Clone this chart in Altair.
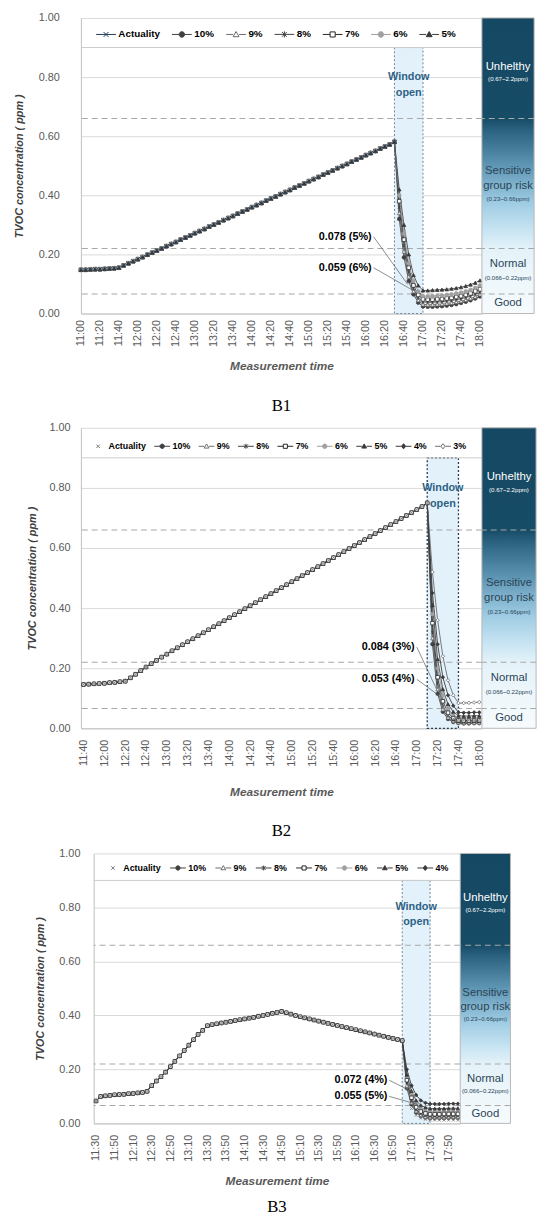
import altair as alt
import pandas as pd

FONT = "Liberation Sans"
SERIF = "Liberation Serif"

# ---------------- shared values ----------------
Y_TICKS = [0.0, 0.2, 0.4, 0.6, 0.8, 1.0]
THRESHOLDS = [0.66, 0.22, 0.066]
LEGEND_RULE = [0.9]
BAND_TEXT = ["Unhelthy", "(0.67~2.2ppm)", "Sensitive", "group risk", "(0.23~0.66ppm)",
             "Normal", "(0.066~0.22ppm)", "Good"]
BAND_TEXT_V = [0.835, 0.792, 0.482, 0.432, 0.388, 0.166, 0.12, 0.034]
WINDOW_TEXT = ["Window", "open"]
WINDOW_TEXT_V = [0.80, 0.745]

# ---------------- B1 ----------------
B1_SERIES = ["Actuality", "10%", "9%", "8%", "7%", "6%", "5%"]
B1_START = "11:00"
B1_WINDOW = ["16:30", "17:00"]
B1_TICKS = ["11:00", "11:20", "11:40", "12:00", "12:20", "12:40", "13:00", "13:20", "13:40",
            "14:00", "14:20", "14:40", "15:00", "15:20", "15:40", "16:00", "16:20", "16:40",
            "17:00", "17:20", "17:40", "18:00"]
B1_PRE = [0.148, 0.148, 0.149, 0.150, 0.150, 0.151, 0.152, 0.153, 0.155, 0.163,
          0.170, 0.177, 0.184, 0.191, 0.199, 0.206, 0.213, 0.220, 0.228, 0.235,
          0.242, 0.250, 0.257, 0.264, 0.272, 0.279, 0.286, 0.294, 0.301, 0.308,
          0.316, 0.323, 0.330, 0.338, 0.345, 0.352, 0.360, 0.367, 0.374, 0.382,
          0.389, 0.396, 0.404, 0.411, 0.418, 0.426, 0.433, 0.440, 0.448, 0.455,
          0.462, 0.470, 0.477, 0.484, 0.492, 0.499, 0.506, 0.514, 0.521, 0.528,
          0.536, 0.543, 0.550, 0.558, 0.565, 0.572, 0.581]
B1_POST_10 = [0.581, 0.32, 0.19, 0.11, 0.065, 0.037, 0.024, 0.023, 0.023, 0.024, 0.025, 0.027, 0.029, 0.032, 0.036, 0.040, 0.045, 0.051, 0.058]
B1_POST_9 = [0.581, 0.34, 0.21, 0.125, 0.075, 0.045, 0.031, 0.030, 0.030, 0.031, 0.032, 0.034, 0.036, 0.039, 0.042, 0.046, 0.051, 0.057, 0.065]
B1_POST_8 = [0.581, 0.36, 0.23, 0.14, 0.085, 0.053, 0.039, 0.038, 0.038, 0.039, 0.040, 0.042, 0.044, 0.047, 0.050, 0.054, 0.059, 0.065, 0.072]
B1_POST_7 = [0.581, 0.38, 0.25, 0.155, 0.095, 0.063, 0.048, 0.047, 0.047, 0.048, 0.049, 0.051, 0.053, 0.056, 0.059, 0.063, 0.068, 0.075, 0.082]
B1_POST_6 = [0.581, 0.40, 0.27, 0.17, 0.11, 0.075, 0.059, 0.058, 0.059, 0.060, 0.061, 0.063, 0.065, 0.068, 0.071, 0.075, 0.080, 0.087, 0.095]
B1_POST_5 = [0.581, 0.42, 0.30, 0.20, 0.13, 0.095, 0.078, 0.078, 0.079, 0.080, 0.081, 0.082, 0.084, 0.086, 0.089, 0.093, 0.098, 0.104, 0.112]
B1_NOTE_TEXT = ["0.078 (5%)", "0.059 (6%)"]
B1_NOTE_AT = ["16:06", "16:06"]
B1_NOTE_V = [0.26, 0.155]
B1_NOTE_TO = ["16:44", "16:48"]
B1_NOTE_TO_V = [0.098, 0.081]

# ---------------- B2 ----------------
B2_SERIES = ["Actuality", "10%", "9%", "8%", "7%", "6%", "5%", "4%", "3%"]
B2_START = "11:40"
B2_WINDOW = ["17:10", "17:40"]
B2_TICKS = ["11:40", "12:00", "12:20", "12:40", "13:00", "13:20", "13:40", "14:00", "14:20",
            "14:40", "15:00", "15:20", "15:40", "16:00", "16:20", "16:40", "17:00", "17:20",
            "17:40", "18:00"]
B2_PRE = [0.146, 0.147, 0.148, 0.149, 0.150, 0.152, 0.153, 0.155, 0.157,
          0.168, 0.180, 0.192, 0.204, 0.215, 0.226, 0.237, 0.247, 0.258, 0.268,
          0.278, 0.288, 0.298, 0.308, 0.318, 0.328, 0.338, 0.348, 0.358, 0.368,
          0.378, 0.388, 0.398, 0.408, 0.418, 0.428, 0.438, 0.448, 0.458, 0.468,
          0.478, 0.488, 0.498, 0.508, 0.518, 0.528, 0.538, 0.548, 0.558, 0.568,
          0.578, 0.588, 0.598, 0.608, 0.618, 0.628, 0.638, 0.648, 0.658, 0.668,
          0.678, 0.688, 0.698, 0.708, 0.718, 0.728, 0.738, 0.750]
B2_POST_ACT = [0.750, 0.31, 0.14, 0.075, 0.045, 0.032, 0.028, 0.027, 0.027, 0.027, 0.028]
B2_POST_10 = [0.750, 0.28, 0.115, 0.055, 0.031, 0.021, 0.017, 0.016, 0.016, 0.017, 0.017]
B2_POST_9 = [0.750, 0.30, 0.13, 0.063, 0.036, 0.024, 0.019, 0.018, 0.018, 0.019, 0.019]
B2_POST_8 = [0.750, 0.32, 0.15, 0.075, 0.043, 0.028, 0.022, 0.021, 0.021, 0.022, 0.022]
B2_POST_7 = [0.750, 0.35, 0.17, 0.09, 0.052, 0.034, 0.027, 0.026, 0.026, 0.027, 0.027]
B2_POST_6 = [0.750, 0.38, 0.20, 0.11, 0.065, 0.043, 0.034, 0.033, 0.033, 0.034, 0.034]
B2_POST_5 = [0.750, 0.41, 0.23, 0.13, 0.08, 0.055, 0.042, 0.041, 0.041, 0.042, 0.042]
B2_POST_4 = [0.750, 0.45, 0.28, 0.17, 0.11, 0.075, 0.053, 0.052, 0.052, 0.053, 0.053]
B2_POST_3 = [0.750, 0.52, 0.36, 0.24, 0.16, 0.11, 0.084, 0.084, 0.085, 0.086, 0.087]
B2_NOTE_TEXT = ["0.084 (3%)", "0.053 (4%)"]
B2_NOTE_AT = ["16:58", "16:58"]
B2_NOTE_V = [0.27, 0.163]
B2_NOTE_TO = ["17:19", "17:21"]
B2_NOTE_TO_V = [0.13, 0.11]

# ---------------- B3 ----------------
B3_SERIES = ["Actuality", "10%", "9%", "8%", "7%", "6%", "5%", "4%"]
B3_START = "11:30"
B3_WINDOW = ["17:00", "17:30"]
B3_TICKS = ["11:30", "11:50", "12:10", "12:30", "12:50", "13:10", "13:30", "13:50", "14:10",
            "14:30", "14:50", "15:10", "15:30", "15:50", "16:10", "16:30", "16:50", "17:10",
            "17:30", "17:50"]
B3_PRE = [0.083, 0.100, 0.102, 0.104, 0.106, 0.107, 0.108, 0.110, 0.111, 0.113,
          0.115, 0.119, 0.140, 0.157, 0.173, 0.190, 0.210, 0.230, 0.250, 0.270,
          0.290, 0.310, 0.330, 0.345, 0.362, 0.366, 0.369, 0.372, 0.375, 0.378,
          0.381, 0.384, 0.387, 0.390, 0.393, 0.397, 0.400, 0.404, 0.408, 0.411,
          0.415, 0.410, 0.405, 0.400, 0.395, 0.391, 0.387, 0.383, 0.379, 0.375,
          0.371, 0.367, 0.363, 0.359, 0.355, 0.351, 0.347, 0.343, 0.339, 0.335,
          0.331, 0.327, 0.323, 0.319, 0.315, 0.311, 0.307]
B3_POST_ACT = [0.307, 0.13, 0.055, 0.030, 0.020, 0.015, 0.013, 0.012, 0.012, 0.012, 0.012, 0.012, 0.012]
B3_POST_10 = [0.307, 0.13, 0.07, 0.04, 0.027, 0.021, 0.019, 0.019, 0.019, 0.019, 0.020, 0.020, 0.020]
B3_POST_9 = [0.307, 0.14, 0.077, 0.045, 0.031, 0.025, 0.023, 0.023, 0.023, 0.023, 0.024, 0.024, 0.024]
B3_POST_8 = [0.307, 0.15, 0.085, 0.052, 0.037, 0.030, 0.028, 0.028, 0.028, 0.028, 0.029, 0.029, 0.029]
B3_POST_7 = [0.307, 0.16, 0.095, 0.06, 0.044, 0.037, 0.034, 0.034, 0.034, 0.035, 0.035, 0.035, 0.035]
B3_POST_6 = [0.307, 0.17, 0.105, 0.07, 0.053, 0.046, 0.043, 0.043, 0.043, 0.043, 0.044, 0.044, 0.044]
B3_POST_5 = [0.307, 0.18, 0.12, 0.085, 0.067, 0.059, 0.055, 0.055, 0.055, 0.055, 0.056, 0.056, 0.056]
B3_POST_4 = [0.307, 0.20, 0.14, 0.105, 0.085, 0.076, 0.072, 0.072, 0.072, 0.072, 0.073, 0.073, 0.073]
B3_NOTE_TEXT = ["0.072 (4%)", "0.055 (5%)"]
B3_NOTE_AT = ["16:44", "16:44"]
B3_NOTE_V = [0.16, 0.10]
B3_NOTE_TO = ["17:12", "17:17"]
B3_NOTE_TO_V = [0.115, 0.07]


# ---------------- helpers ----------------
def hm(s):
    h, m = s.split(":")
    return int(h) * 60 + int(m)


LABEL_EXPR = "floor(datum.value / 60) + ':' + (datum.value % 60 < 10 ? '0' : '') + (datum.value % 60)"


def circ(r):
    return f"M{-r},0A{r},{r} 0 1 1 {r},0A{r},{r} 0 1 1 {-r},0Z"


def tri(r):
    return f"M0,{-r}L{r},{0.75 * r}L{-r},{0.75 * r}Z"


def sq(r):
    return f"M{-r},{-r}H{r}V{r}H{-r}Z"


def dia(r):
    return f"M0,{-1.2 * r}L{r},0L0,{1.2 * r}L{-r},0Z"


def xx(r):
    return f"M{-r},{-r}L{r},{r}M{-r},{r}L{r},{-r}"


def ast(r):
    return xx(r) + f"M0,{-1.3 * r}L0,{1.3 * r}"


def gap(r):
    return f"M-1,0L{-r},0M{r},0L1,0"


FULL = "M-1,0L1,0"

PT_SHAPE = {"Actuality": xx(0.8), "10%": "circle", "9%": "triangle-up", "8%": ast(0.75),
            "7%": "square", "6%": "circle", "5%": "triangle-up", "4%": "diamond", "3%": "diamond"}
LEG_SHAPE = {"10%": gap(0.28) + circ(0.28), "9%": gap(0.3) + tri(0.3), "8%": FULL + ast(0.24),
             "7%": gap(0.26) + sq(0.26), "6%": gap(0.28) + circ(0.28), "5%": gap(0.3) + tri(0.3),
             "4%": gap(0.3) + dia(0.27), "3%": gap(0.3) + dia(0.27)}
FILL = {"10%": "#404040", "9%": "#ffffff", "8%": "#404040", "7%": "#ffffff", "6%": "#a0a0a0",
        "5%": "#3a3a3a", "4%": "#3a3a3a", "3%": "#ffffff"}
STROKE = {"10%": "#404040", "9%": "#6b6b6b", "8%": "#404040", "7%": "#262626", "6%": "#a0a0a0",
          "5%": "#3a3a3a", "4%": "#3a3a3a", "3%": "#6b6b6b"}
LINE_COL = {"10%": "#4a4a4a", "9%": "#6b6b6b", "8%": "#4a4a4a", "7%": "#3a3a3a", "6%": "#9a9a9a",
            "5%": "#4a4a4a", "4%": "#3a3a3a", "3%": "#6b6b6b"}

GRAD = alt.LinearGradient(
    gradient="linear", x1=0, x2=0, y1=0, y2=1,
    stops=[alt.GradientStop(color="#154862", offset=0.0),
           alt.GradientStop(color="#174c67", offset=0.34),
           alt.GradientStop(color="#2b6280", offset=0.38),
           alt.GradientStop(color="#5f96b4", offset=0.50),
           alt.GradientStop(color="#9ccae2", offset=0.62),
           alt.GradientStop(color="#c9e5f3", offset=0.72),
           alt.GradientStop(color="#e4f2f9", offset=0.78),
           alt.GradientStop(color="#f7fbfd", offset=1.0)])


def build_df(series, start, pre, posts, draw_last):
    t0 = hm(start)
    rows = []
    order = [s for s in series if s not in draw_last] + [s for s in draw_last if s in series]
    for s in order:
        post = posts.get(s)
        vals = list(pre) + (list(post[1:]) if post else [])
        for i, v in enumerate(vals):
            rows.append({"t": t0 + 5 * i, "v": v, "s": s})
    return pd.DataFrame(rows)


def panel(p):
    series = p["series"]
    df = build_df(series, p["start"], p["pre"], p["posts"], p["draw_last"])

    def xenc(field):
        return alt.X(f"{field}:Q", scale=alt.Scale(domain=p["dom"], nice=False, zero=False),
                     axis=alt.Axis(values=[hm(s) for s in p["ticks"]], labelExpr=LABEL_EXPR, labelAngle=270,
                                   labelFlush=False, labelOverlap=False, grid=False, ticks=False,
                                   domainColor="#bfbfbf", labelColor="#595959", labelFont=FONT,
                                   labelFontSize=11, labelPadding=p["xlp"], title="Measurement time",
                                   titleFont=FONT, titleFontSize=12, titleFontWeight="bold",
                                   titleFontStyle="italic", titleColor="#595959", titlePadding=p["xtp"]))

    def yenc(field):
        return alt.Y(f"{field}:Q", scale=alt.Scale(domain=[0, 1], nice=False, zero=True),
                     axis=alt.Axis(values=Y_TICKS, format=".2f", grid=True, gridColor="#d9d9d9",
                                   ticks=False, domainColor="#bfbfbf", labelColor="#595959",
                                   labelFont=FONT, labelFontSize=11, labelPadding=p["ylp"],
                                   title="TVOC concentration ( ppm )", titleFont=FONT, titleFontSize=11,
                                   titleFontWeight="bold", titleFontStyle="italic", titleColor="#404040",
                                   titlePadding=p["ytp"]))

    w0, w1 = hm(p["window"][0]), hm(p["window"][1])
    win = alt.Chart(pd.DataFrame({"t": [w0], "t2": [w1], "v": [0.0], "v2": LEGEND_RULE})).mark_rect(
        fill="#e3f1fb", stroke=p["win_stroke"], strokeDash=[2, 2], strokeWidth=p["win_sw"]
    ).encode(x=xenc("t"), x2="t2:Q", y=yenc("v"), y2="v2:Q")

    thr = alt.Chart(pd.DataFrame({"v": THRESHOLDS})).mark_rule(
        color="#a8a8a8", strokeDash=[6, 4], strokeWidth=1.1).encode(y=yenc("v"))
    top = alt.Chart(pd.DataFrame({"v": LEGEND_RULE})).mark_rule(
        color="#cccccc", strokeWidth=1).encode(y=yenc("v"))

    scen = [s for s in series if s != "Actuality"]
    lines = alt.Chart(df).transform_filter(
        alt.FieldOneOfPredicate(field="s", oneOf=scen)
    ).mark_line(strokeWidth=0.9).encode(
        x=xenc("t"), y=yenc("v"),
        stroke=alt.Stroke("s:N", scale=alt.Scale(domain=scen, range=[LINE_COL[s] for s in scen]), legend=None))

    act = p["act_color"]
    fills = [act if s == "Actuality" else FILL[s] for s in series]
    strokes = [act if s == "Actuality" else STROKE[s] for s in series]
    pts = alt.Chart(df).mark_point(filled=True, opacity=1, size=p["pt_size"], strokeWidth=0.8).encode(
        x=xenc("t"), y=yenc("v"),
        shape=alt.Shape("s:N", scale=alt.Scale(domain=series, range=[PT_SHAPE[s] for s in series]), legend=None),
        fill=alt.Fill("s:N", scale=alt.Scale(domain=series, range=fills), legend=None),
        stroke=alt.Stroke("s:N", scale=alt.Scale(domain=series, range=strokes), legend=None))

    layers = [win, thr, top, lines]
    if p["act_line"]:
        layers.append(alt.Chart(df).transform_filter(alt.datum.s == "Actuality").mark_line(
            color=act, strokeWidth=1.4).encode(x=xenc("t"), y=yenc("v")))
    layers.append(pts)

    notes = pd.DataFrame({"txt": p["note_text"], "t": [hm(s) for s in p["note_at"]],
                          "t1": [hm(s) + 2 for s in p["note_at"]], "v": p["note_v"],
                          "t2": [hm(s) for s in p["note_to"]], "v2": p["note_to_v"]})
    layers.append(alt.Chart(notes).mark_rule(color="#595959", strokeWidth=0.7).encode(
        x=xenc("t1"), y=yenc("v"), x2="t2:Q", y2="v2:Q"))
    layers.append(alt.Chart(notes).mark_text(align="right", baseline="middle", font=FONT, fontSize=11,
                                             fontWeight="bold", color="#000000").encode(
        x=xenc("t"), y=yenc("v"), text="txt:N"))

    wt = pd.DataFrame({"txt": WINDOW_TEXT, "v": WINDOW_TEXT_V, "t": [(w0 + w1) / 2] * 2})
    layers.append(alt.Chart(wt).mark_text(font=FONT, fontSize=11, fontWeight="bold", color="#2d6284").encode(
        x=xenc("t"), y=yenc("v"), text="txt:N"))

    leg_shapes = [(FULL + xx(0.25) if p["act_line"] else xx(0.22)) if s == "Actuality" else LEG_SHAPE[s]
                  for s in series]
    L = alt.Legend(orient="none", legendX=p["leg_x"], legendY=p["leg_y"], direction="horizontal",
                   columns=len(series), title=None, labelFont=FONT, labelFontSize=p["leg_fs"],
                   labelFontWeight="bold", labelColor="#000000", symbolSize=p["leg_size"],
                   symbolStrokeWidth=1, columnPadding=p["leg_pad"], labelOffset=2, padding=0,
                   symbolOpacity=1)
    leg = alt.Chart(pd.DataFrame({"s": series})).transform_filter("false").mark_point(
        filled=True, opacity=1).encode(
        shape=alt.Shape("s:N", scale=alt.Scale(domain=series, range=leg_shapes), legend=L),
        fill=alt.Fill("s:N", scale=alt.Scale(domain=series, range=fills), legend=L),
        stroke=alt.Stroke("s:N", scale=alt.Scale(domain=series, range=strokes), legend=L))
    layers.append(leg)

    main = alt.layer(*layers).resolve_scale(shape="independent", fill="independent", stroke="independent").properties(
        width=p["w"], height=p["h"],
        title=alt.TitleParams(p["name"], orient="bottom", font=SERIF, fontSize=17, fontWeight="normal",
                              color="#000000", offset=p["cap_off"], anchor="middle"))

    def yb(field):
        return alt.Y(f"{field}:Q", scale=alt.Scale(domain=[0, 1], nice=False, zero=True), axis=None)

    brect = alt.Chart(pd.DataFrame({"v": [0.0], "v2": [1.0]})).mark_rect(
        fill=GRAD, stroke="#b8b8b8", strokeWidth=1).encode(y=yb("v"), y2="v2:Q")
    bthr = alt.Chart(pd.DataFrame({"v": THRESHOLDS})).mark_rule(
        color="#a8a8a8", strokeDash=[6, 4], strokeWidth=1.1).encode(y=yb("v"))
    tdf = pd.DataFrame({"txt": BAND_TEXT, "v": BAND_TEXT_V})
    tdf["fs"] = [6.2 if t.startswith("(") else 11.5 for t in BAND_TEXT]
    tdf["col"] = ["#ffffff" if v > THRESHOLDS[0] else "#2b4556" for v in BAND_TEXT_V]
    btxt = alt.Chart(tdf).mark_text(font=FONT, baseline="middle").encode(
        y=yb("v"), text="txt:N", size=alt.Size("fs:Q", scale=None), color=alt.Color("col:N", scale=None))
    band = alt.layer(brect, bthr, btxt).properties(width=p["bw"], height=p["h"])

    return main, band


B1 = dict(name="B1", series=B1_SERIES, start=B1_START, pre=B1_PRE,
          posts={"10%": B1_POST_10, "9%": B1_POST_9, "8%": B1_POST_8, "7%": B1_POST_7,
                 "6%": B1_POST_6, "5%": B1_POST_5}, draw_last=["Actuality"],
          window=B1_WINDOW, ticks=B1_TICKS, dom=[hm("11:00"), hm("18:00") + 2], w=407, h=300, bw=53,
          note_text=B1_NOTE_TEXT, note_at=B1_NOTE_AT, note_v=B1_NOTE_V, note_to=B1_NOTE_TO,
          note_to_v=B1_NOTE_TO_V, act_color="#1f3b57", act_line=True, pt_size=14,
          win_stroke="#5a788e", win_sw=0.9, leg_x=15, leg_y=6, leg_fs=10, leg_size=400, leg_pad=9,
          xlp=6, xtp=14, ylp=22, ytp=14, cap_off=27)
B2 = dict(name="B2", series=B2_SERIES, start=B2_START, pre=B2_PRE,
          posts={"Actuality": B2_POST_ACT, "10%": B2_POST_10, "9%": B2_POST_9, "8%": B2_POST_8,
                 "7%": B2_POST_7, "6%": B2_POST_6, "5%": B2_POST_5, "4%": B2_POST_4, "3%": B2_POST_3},
          draw_last=["7%", "Actuality"],
          window=B2_WINDOW, ticks=B2_TICKS, dom=[hm("11:40") - 2.5, hm("18:00") + 2.5], w=407, h=305, bw=55,
          note_text=B2_NOTE_TEXT, note_at=B2_NOTE_AT, note_v=B2_NOTE_V, note_to=B2_NOTE_TO,
          note_to_v=B2_NOTE_TO_V, act_color="#7a7a7a", act_line=False, pt_size=13,
          win_stroke="#1f3b50", win_sw=1.3, leg_x=9, leg_y=10, leg_fs=9, leg_size=256, leg_pad=5,
          xlp=11, xtp=21, ylp=11, ytp=12, cap_off=26)
B3 = dict(name="B3", series=B3_SERIES, start=B3_START, pre=B3_PRE,
          posts={"Actuality": B3_POST_ACT, "10%": B3_POST_10, "9%": B3_POST_9, "8%": B3_POST_8,
                 "7%": B3_POST_7, "6%": B3_POST_6, "5%": B3_POST_5, "4%": B3_POST_4},
          draw_last=["7%", "Actuality"],
          window=B3_WINDOW, ticks=B3_TICKS, dom=[hm("11:30") - 2.5, hm("18:00") + 2.5], w=372, h=274, bw=51,
          note_text=B3_NOTE_TEXT, note_at=B3_NOTE_AT, note_v=B3_NOTE_V, note_to=B3_NOTE_TO,
          note_to_v=B3_NOTE_TO_V, act_color="#7a7a7a", act_line=False, pt_size=13,
          win_stroke="#5a788e", win_sw=0.9, leg_x=11, leg_y=6, leg_fs=9, leg_size=256, leg_pad=6,
          xlp=11, xtp=15, ylp=14, ytp=14, cap_off=12)

m1, b1 = panel(B1)
m2, b2 = panel(B2)
m3, b3 = panel(B3)

spacer = alt.Chart(pd.DataFrame({"a": [0]})).mark_point(opacity=0).encode(
    x=alt.X("a:Q", axis=None), y=alt.Y("a:Q", axis=None)).properties(width=13, height=10)

chart = alt.vconcat(
    alt.hconcat(m1, b1, spacing=0, bounds="flush"),
    alt.hconcat(m2, b2, spacing=0, bounds="flush"),
    alt.hconcat(spacer, m3, b3, spacing=0, bounds="flush"),
    spacing=8
).configure_view(stroke=None).properties(padding={"left": 5, "top": -5, "right": 5, "bottom": 0})

chart.save("out.html", embed_options={"renderer": "svg", "actions": False})
